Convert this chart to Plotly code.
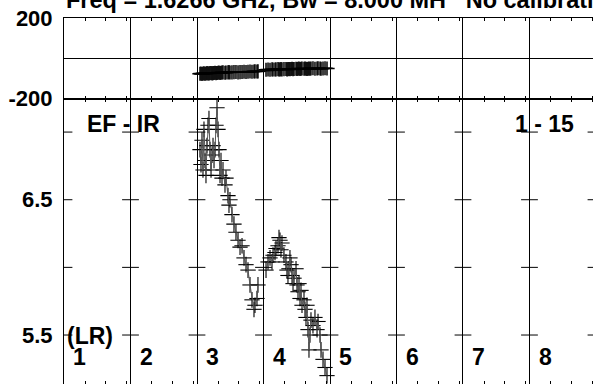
import plotly.graph_objects as go

# ---------------- data ----------------
time_a = [2.045, 2.060, 2.075, 2.090, 2.105, 2.120, 2.135, 2.150, 2.165, 2.180,
          2.195, 2.211, 2.226, 2.241, 2.256, 2.271, 2.286, 2.301, 2.316, 2.331,
          2.346, 2.361, 2.376, 2.391, 2.421, 2.436, 2.466, 2.481, 2.496, 2.526,
          2.556, 2.586, 2.617, 2.647, 2.677, 2.707, 2.737, 2.767, 2.797, 2.827,
          2.857, 2.872, 2.902, 2.917]
amp_a = [6.87, 6.76, 6.94, 6.72, 7.02, 6.79, 6.68, 6.90, 7.05, 7.10,
         6.87, 6.72, 6.83, 6.90, 6.79, 6.87, 7.05, 7.18, 7.02, 6.87,
         6.68, 6.79, 6.66, 6.72, 6.61, 6.66, 6.53, 6.46, 6.50, 6.39,
         6.32, 6.26, 6.20, 6.15, 6.16, 6.07, 6.02, 5.98, 5.87, 5.76,
         5.69, 5.72, 5.77, 5.87]
phase_a = [-77, -76, -78, -76, -75, -77, -76, -74, -75, -76,
           -74, -73, -75, -74, -73, -72, -74, -73, -72, -71,
           -73, -72, -71, -70, -72, -71, -70, -69, -71, -70,
           -69, -68, -70, -69, -68, -67, -68, -67, -66, -67,
           -66, -65, -66, -65]

time_b = [3.038, 3.068, 3.098, 3.128, 3.143, 3.173, 3.188, 3.218, 3.233, 3.248,
          3.263, 3.278, 3.308, 3.338, 3.353, 3.368, 3.383, 3.398, 3.414, 3.429,
          3.444, 3.459, 3.489, 3.504, 3.519, 3.534, 3.549, 3.564, 3.579, 3.609,
          3.624, 3.639, 3.654, 3.669, 3.684, 3.699, 3.714, 3.744, 3.774, 3.805,
          3.820, 3.850, 3.865, 3.895, 3.925, 3.955]
amp_b = [5.98, 6.04, 6.07, 6.04, 6.09, 6.11, 6.14, 6.16, 6.22, 6.20,
         6.13, 6.18, 6.09, 6.04, 5.98, 5.94, 5.99, 6.07, 6.02, 5.94,
         5.88, 5.92, 5.99, 5.87, 5.82, 5.88, 5.77, 5.83, 5.72, 5.76,
         5.69, 5.63, 5.72, 5.54, 5.39, 5.50, 5.61, 5.57, 5.63, 5.54,
         5.60, 5.50, 5.39, 5.32, 5.26, 5.20]
phase_b = [-57, -56, -57, -55, -56, -56, -55, -54, -56, -55,
           -54, -55, -54, -53, -55, -54, -53, -54, -53, -52,
           -54, -53, -52, -53, -52, -51, -53, -52, -51, -52,
           -51, -52, -53, -52, -51, -52, -51, -50, -52, -51,
           -50, -51, -52, -51, -50, -51]

time_err = 0.115
amp_err = 0.058
phase_err = 35

model_time = [2.0, 4.0]
model_phase = [-78, -50]

cell_labels = ["1", "2", "3", "4", "5", "6", "7", "8"]
cell_bounds = [0, 1, 2, 3, 4, 5, 6, 7, 8]
amp_ticks = [5.5, 6.0, 6.5, 7.0]
amp_tick_labels = ["5.5", "", "6.5", ""]
phase_ticks = [-200, 200]
phase_tick_labels = ["-200", "200"]
minor_offsets = [0.316, 0.630, 0.943]

title_text = "Freq = 1.6266 GHz, Bw = 8.000 MH   No calibrati"
baseline_text = "EF - IR"
chan_text = "1 - 15"
pol_text = "(LR)"

# ---------------- figure ----------------
X_MAX = 7.955
AMP_RANGE = [5.138, 7.248]
SPLIT = 0.78
FONT = "Liberation Sans, Arial, sans-serif"
INK = "#000"

fig = go.Figure()

err_style = dict(type="constant", width=0, color=INK)

for t, a in ((time_a, amp_a), (time_b, amp_b)):
    fig.add_trace(go.Scatter(
        x=t, y=a, mode="lines", xaxis="x", yaxis="y",
        line=dict(color="#555", width=1),
        error_x=dict(value=time_err, thickness=1.1, **err_style),
        error_y=dict(value=amp_err, thickness=1.1, **err_style),
        hoverinfo="skip", showlegend=False))

for t, p in ((time_a, phase_a), (time_b, phase_b)):
    fig.add_trace(go.Scatter(
        x=t, y=p, mode="lines", xaxis="x2", yaxis="y2",
        line=dict(color=INK, width=1),
        error_x=dict(value=time_err, thickness=1.5, **err_style),
        error_y=dict(value=phase_err, thickness=1.5, **err_style),
        hoverinfo="skip", showlegend=False))

fig.add_trace(go.Scatter(
    x=model_time, y=model_phase, mode="lines", xaxis="x2", yaxis="y2",
    line=dict(color=INK, width=1), hoverinfo="skip", showlegend=False))

# cross ticks on every vertical division line of the amplitude panel
cx = [b for b in cell_bounds for _ in amp_ticks]
cy = [v for _ in cell_bounds for v in amp_ticks]
fig.add_trace(go.Scatter(
    x=cx, y=cy, mode="markers", xaxis="x", yaxis="y",
    marker=dict(symbol="line-ew", size=12, line=dict(color=INK, width=1)),
    hoverinfo="skip", showlegend=False))

minor_vals = [b + o for b in cell_bounds for o in minor_offsets]

xcommon = dict(
    range=[0, X_MAX], tickmode="array", tickvals=cell_bounds, automargin=False,
    showticklabels=False, ticks="", showgrid=True, gridcolor=INK, gridwidth=1,
    zeroline=False, showline=True, linecolor=INK, linewidth=1, mirror="ticks",
    minor=dict(tickmode="array", tickvals=minor_vals, ticks="inside",
               ticklen=3, tickcolor=INK, tickwidth=1, showgrid=False),
)

tickfont = dict(family=FONT, size=22, color=INK, weight="bold")

fig.update_layout(
    width=593, height=384,
    margin=dict(l=64, r=0, t=18, b=0, autoexpand=False),
    paper_bgcolor="white", plot_bgcolor="white",
    xaxis=dict(domain=[0, 1], anchor="y", **xcommon),
    xaxis2=dict(domain=[0, 1], anchor="y2", matches="x", **xcommon),
    yaxis=dict(domain=[0, SPLIT], range=AMP_RANGE, anchor="x", automargin=False,
               tickmode="array", tickvals=amp_ticks, ticktext=amp_tick_labels,
               ticks="", showgrid=False, zeroline=False, showline=True,
               linecolor=INK, linewidth=1, mirror=True, ticklabeloverflow="allow",
               tickfont=tickfont, ticklabelstandoff=6),
    yaxis2=dict(domain=[SPLIT, 1], range=[-200, 200], anchor="x2", automargin=False,
                tickmode="array", tickvals=phase_ticks, ticktext=phase_tick_labels,
                ticks="", showgrid=False, zeroline=True, zerolinecolor=INK,
                zerolinewidth=1, showline=True, linecolor=INK, linewidth=1,
                mirror=True, ticklabeloverflow="allow",
                tickfont=tickfont, ticklabelstandoff=6),
    showlegend=False,
)

annfont = dict(family=FONT, size=23, color=INK, weight="bold")
ann = []
ann.append(dict(text=title_text, xref="paper", yref="paper", x=0.0, y=1.050,
                xanchor="left", yanchor="middle", showarrow=False,
                font=dict(annfont, size=23.5)))
ann.append(dict(text=baseline_text, xref="x", yref="y", x=0.902, y=7.063,
                xanchor="center", yanchor="middle", showarrow=False, font=annfont))
ann.append(dict(text=chan_text, xref="x", yref="y", x=7.226, y=7.063,
                xanchor="center", yanchor="middle", showarrow=False, font=annfont))
ann.append(dict(text=pol_text, xref="x", yref="y", x=0.391, y=5.493,
                xanchor="center", yanchor="middle", showarrow=False, font=annfont))
for i, lab in enumerate(cell_labels):
    ann.append(dict(text=lab, xref="x", yref="y", x=cell_bounds[i] + 0.235, y=5.334,
                    xanchor="center", yanchor="middle", showarrow=False, font=annfont))
fig.update_layout(annotations=ann)

# remove the browser's default page margin so the figure fills the window
fig.write_html("out.html",
               config={"displayModeBar": False},
               post_script="document.body.style.margin='0';"
                           "document.body.style.overflow='hidden';")
